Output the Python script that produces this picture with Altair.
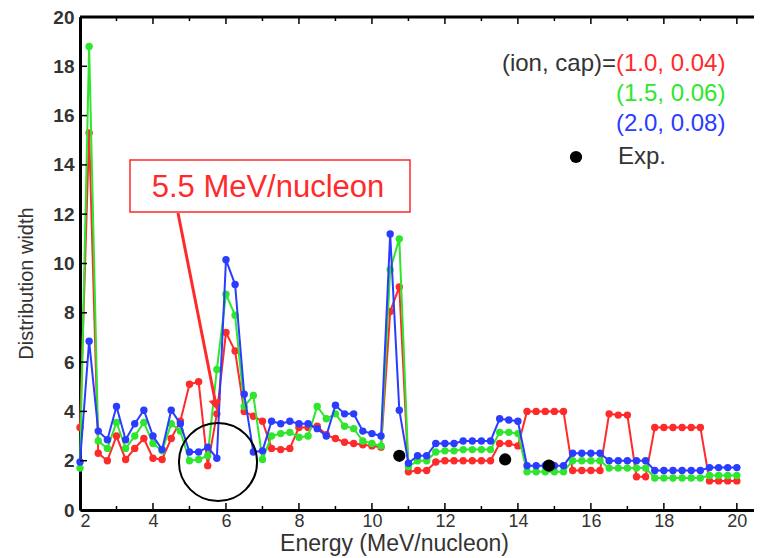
import altair as alt
import pandas as pd

# ---- data ----
energy = [2.0, 2.25, 2.5, 2.75, 3.0, 3.25, 3.5, 3.75, 4.0, 4.25, 4.5, 4.75,
          5.0, 5.25, 5.5, 5.75, 6.0, 6.25, 6.5, 6.75, 7.0, 7.25, 7.5, 7.75,
          8.0, 8.25, 8.5, 8.75, 9.0, 9.25, 9.5, 9.75, 10.0, 10.25, 10.5, 10.75,
          11.0, 11.25, 11.5, 11.75, 12.0, 12.25, 12.5, 12.75, 13.0, 13.25, 13.5, 13.75,
          14.0, 14.25, 14.5, 14.75, 15.0, 15.25, 15.5, 15.75, 16.0, 16.25, 16.5, 16.75,
          17.0, 17.25, 17.5, 17.75, 18.0, 18.25, 18.5, 18.75, 19.0, 19.25, 19.5, 19.75, 20.0]

red = [3.35, 15.3, 2.3, 2.0, 3.0, 2.05, 2.5, 2.9, 2.1, 2.05, 2.9, 3.6,
       5.1, 5.2, 1.8, 3.9, 7.2, 6.45, 4.0, 3.8, 3.6, 2.5, 2.45, 2.5,
       3.35, 3.35, 3.4, 3.05, 2.9, 2.75, 2.7, 2.65, 2.6, 2.55, 8.05, 9.05,
       1.55, 1.6, 1.6, 1.95, 2.0, 2.0, 2.0, 2.0, 2.0, 2.0, 2.7, 2.7,
       2.6, 4.0, 4.0, 4.0, 4.0, 4.0, 1.6, 1.6, 1.6, 1.6, 3.9, 3.85,
       3.85, 1.35, 1.35, 3.35, 3.35, 3.35, 3.35, 3.35, 3.35, 1.18, 1.18, 1.18, 1.18]

green = [1.7, 18.8, 2.8, 2.5, 3.55, 2.5, 3.0, 3.55, 2.7, 2.4, 3.5, 3.2,
         2.0, 2.05, 2.2, 5.7, 8.75, 7.9, 4.2, 4.65, 2.05, 3.0, 3.1, 3.15,
         2.95, 3.0, 4.2, 3.7, 3.9, 3.4, 3.3, 2.8, 2.7, 2.6, 9.75, 11.0,
         1.75, 2.0, 2.0, 2.35, 2.4, 2.4, 2.45, 2.45, 2.45, 2.45, 3.15, 3.15,
         3.1, 1.55, 1.55, 1.55, 1.55, 1.55, 2.0, 2.0, 2.0, 2.0, 1.7, 1.7,
         1.7, 1.7, 1.7, 1.3, 1.3, 1.3, 1.3, 1.3, 1.3, 1.4, 1.4, 1.4, 1.4]

blue = [1.95, 6.85, 3.2, 2.85, 4.2, 2.85, 3.5, 4.05, 3.0, 2.45, 4.05, 3.5,
        2.35, 2.35, 2.55, 2.1, 10.15, 9.15, 4.7, 2.35, 2.4, 3.6, 3.5, 3.6,
        3.5, 3.5, 3.3, 3.0, 4.25, 3.9, 3.9, 3.2, 3.1, 3.0, 11.2, 4.05,
        1.9, 2.2, 2.2, 2.7, 2.7, 2.7, 2.8, 2.8, 2.8, 2.8, 3.7, 3.65,
        3.6, 1.8, 1.8, 1.8, 1.8, 1.8, 2.3, 2.3, 2.3, 2.3, 2.0, 2.0,
        2.0, 2.0, 2.0, 1.6, 1.6, 1.6, 1.6, 1.6, 1.6, 1.72, 1.72, 1.72, 1.72]

exp_energy = [10.75, 13.65, 14.85]
exp_width = [2.2, 2.05, 1.8]

series_names = ["(1.0, 0.04)", "(1.5, 0.06)", "(2.0, 0.08)"]
series_colors = ["#ff2a2a", "#2ee62e", "#2a3cff"]

x_ticks_major = [2, 4, 6, 8, 10, 12, 14, 16, 18, 20]
x_ticks_minor = [3, 5, 7, 9, 11, 13, 15, 17, 19]
y_ticks = [0, 2, 4, 6, 8, 10, 12, 14, 16, 18, 20]

FONT = "Liberation Sans"
W, H = 674, 493
TOP = 9
xscale = alt.Scale(domain=[2, 20.47], nice=False, zero=False)
yscale = alt.Scale(domain=[0, 20], nice=False, zero=False)

x_axis = alt.Axis(values=x_ticks_major, ticks=False, grid=False, domainColor="black",
                  domainWidth=3, labelFont=FONT, labelFontSize=18, labelFontWeight="normal",
                  labelColor="#333", labelPadding=2, title="Energy (MeV/nucleon)", titleFont=FONT,
                  titleFontSize=23, titleFontWeight="normal", titleColor="#333",
                  titlePadding=2, titleX=314)
y_axis = alt.Axis(values=y_ticks, ticks=False, grid=False, domainColor="black",
                  domainWidth=3, labelFont=FONT, labelFontSize=19, labelFontWeight="bold",
                  labelColor="#333", labelPadding=6, title="Distribution width",
                  titleFont=FONT, titleFontSize=20, titleFontWeight="normal",
                  titleColor="#333", titlePadding=16, titleY=266)

layers = []
for name, vals, col in zip(series_names, [red, green, blue], series_colors):
    df = pd.DataFrame({"energy": energy, "width": vals, "series": name})
    layers.append(
        alt.Chart(df).mark_line(color=col, strokeWidth=2,
                                point=alt.OverlayMarkDef(color=col, size=55, filled=True, opacity=1))
        .encode(x=alt.X("energy:Q", scale=xscale, axis=x_axis),
                y=alt.Y("width:Q", scale=yscale, axis=y_axis))
    )

exp_df = pd.DataFrame({"energy": exp_energy, "width": exp_width})
exp_layer = alt.Chart(exp_df).mark_point(filled=True, color="black", size=150, opacity=1).encode(
    x=alt.X("energy:Q", scale=xscale), y=alt.Y("width:Q", scale=yscale))

# inward ticks
tmaj = pd.DataFrame({"t": x_ticks_major})
tmin = pd.DataFrame({"t": x_ticks_minor})
ty = pd.DataFrame({"t": y_ticks})
one = pd.DataFrame({"k": [0]})
ticks = [
    alt.Chart(tmaj).mark_rule(color="black", strokeWidth=1.5).encode(
        x=alt.X("t:Q", scale=xscale), y=alt.value(H), y2=alt.value(H - 7)),
    alt.Chart(tmin).mark_rule(color="black", strokeWidth=1.5).encode(
        x=alt.X("t:Q", scale=xscale), y=alt.value(H), y2=alt.value(H - 4)),
    alt.Chart(tmaj).mark_rule(color="black", strokeWidth=1.5).encode(
        x=alt.X("t:Q", scale=xscale), y=alt.value(0), y2=alt.value(7)),
    alt.Chart(tmin).mark_rule(color="black", strokeWidth=1.5).encode(
        x=alt.X("t:Q", scale=xscale), y=alt.value(0), y2=alt.value(4)),
    alt.Chart(ty).mark_rule(color="black", strokeWidth=1.5).encode(
        y=alt.Y("t:Q", scale=yscale), x=alt.value(0), x2=alt.value(7)),
]
top_spine = alt.Chart(one).mark_rule(color="black", strokeWidth=3).encode(
    x=alt.value(0), x2=alt.value(W), y=alt.value(0))


def label(text, color, x, y, align="left", size=24):
    return alt.Chart(one).mark_text(text=text, font=FONT, fontSize=size, fontWeight="normal",
                                    color=color, align=align, baseline="middle").encode(
        x=alt.value(x), y=alt.value(y))


# legend (positions in plot pixels)
legend = [
    label("(ion, cap)=", "#333", 536, 47, align="right"),
    label(series_names[0], series_colors[0], 536, 47),
    label(series_names[1], series_colors[1], 536, 77),
    label(series_names[2], series_colors[2], 536, 107),
    alt.Chart(one).mark_point(filled=True, color="black", size=150, opacity=1).encode(
        x=alt.value(496), y=alt.value(140)),
    label("Exp.", "#333", 538, 140),
]

# annotation: box, label, arrow, circle
annot = [
    alt.Chart(one).mark_rect(fill="white", stroke="#ff2a2a", strokeWidth=1.5).encode(
        x=alt.value(50), x2=alt.value(330), y=alt.value(143), y2=alt.value(195)),
    label("5.5 MeV/nucleon", "#ff2a2a", 188, 171, align="center", size=31),
    alt.Chart(one).mark_rule(color="#ff2a2a", strokeWidth=3).encode(
        x=alt.value(98), y=alt.value(196), x2=alt.value(135), y2=alt.value(383)),
    alt.Chart(one).mark_point(shape="triangle-down", filled=True, color="#ff2a2a", size=160,
                              opacity=1, angle=348.6).encode(x=alt.value(136), y=alt.value(388)),
    alt.Chart(one).mark_point(shape="circle", filled=False, color="black", strokeWidth=2,
                              size=6100, opacity=1).encode(x=alt.value(138), y=alt.value(445)),
]

chart = alt.layer(*layers, exp_layer, *ticks, top_spine, *legend, *annot).properties(
    width=W, height=H,
    padding={"left": 72, "top": TOP, "right": 0, "bottom": 48},
    autosize=alt.AutoSizeParams(type="none"),
).configure_view(stroke=None)

chart.save("out.html", embed_options={"renderer": "svg", "actions": False})
